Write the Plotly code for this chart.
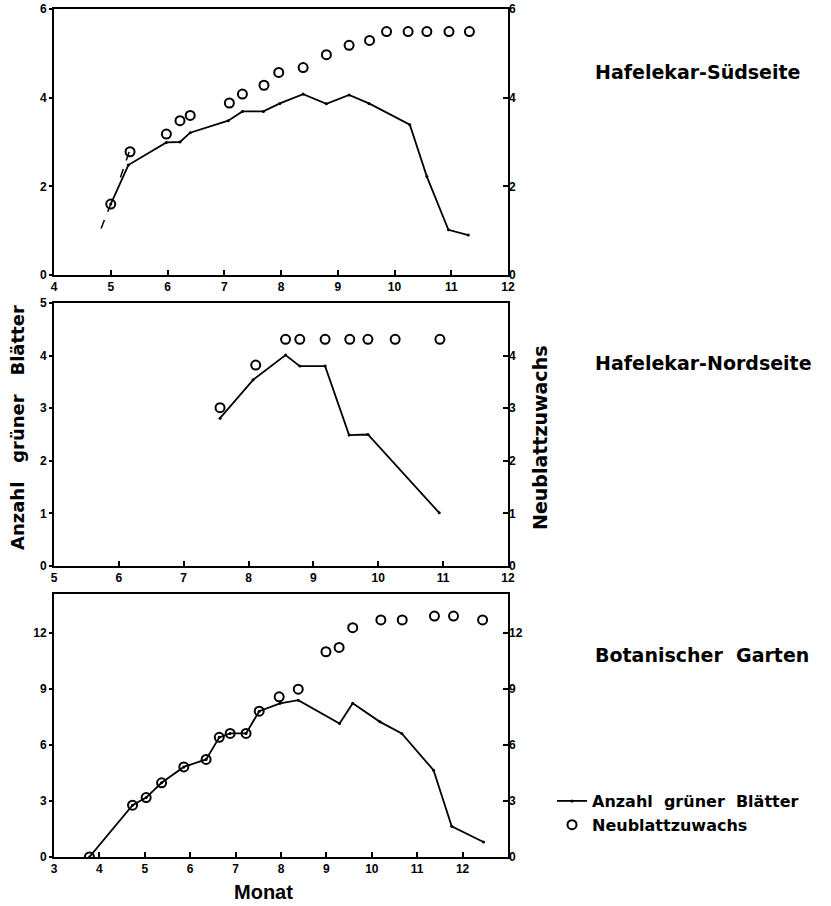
import plotly.graph_objects as go

# Hafelekar-Suedseite
sued_line_x = [5.0, 5.31, 5.98, 6.22, 6.40, 7.07, 7.32, 7.69, 7.98, 8.39, 8.80, 9.20, 9.55, 10.27, 10.57, 10.95, 11.30]
sued_line_y = [1.6, 2.48, 2.99, 3.0, 3.21, 3.48, 3.69, 3.69, 3.87, 4.08, 3.86, 4.06, 3.87, 3.39, 2.22, 1.02, 0.90]
sued_dash_x = [4.83, 5.0, None, 5.17, 5.33]
sued_dash_y = [1.05, 1.6, None, 2.2, 2.8]
sued_neu_x = [5.0, 5.34, 5.98, 6.22, 6.40, 7.09, 7.32, 7.70, 7.96, 8.39, 8.80, 9.20, 9.56, 9.86, 10.24, 10.57, 10.96, 11.32]
sued_neu_y = [1.6, 2.78, 3.18, 3.48, 3.60, 3.88, 4.08, 4.28, 4.57, 4.68, 4.97, 5.18, 5.29, 5.49, 5.49, 5.49, 5.49, 5.49]

# Hafelekar-Nordseite
nord_line_x = [7.56, 8.07, 8.57, 8.79, 9.18, 9.55, 9.84, 10.94]
nord_line_y = [2.81, 3.54, 4.01, 3.80, 3.80, 2.49, 2.50, 1.01]
nord_neu_x = [7.56, 8.11, 8.57, 8.79, 9.18, 9.56, 9.84, 10.26, 10.95]
nord_neu_y = [3.01, 3.82, 4.31, 4.31, 4.31, 4.31, 4.31, 4.31, 4.31]

# Botanischer Garten
bot_line_x = [3.78, 4.73, 5.03, 5.37, 5.86, 6.35, 6.64, 6.88, 7.23, 7.52, 7.98, 8.38, 9.29, 9.58, 10.18, 10.66, 11.36, 11.76, 12.46]
bot_line_y = [0, 2.77, 3.18, 3.97, 4.82, 5.22, 6.40, 6.61, 6.61, 7.80, 8.22, 8.39, 7.14, 8.22, 7.23, 6.61, 4.64, 1.64, 0.80]
bot_neu_x = [3.78, 4.73, 5.03, 5.37, 5.86, 6.35, 6.64, 6.88, 7.23, 7.52, 7.96, 8.38, 8.99, 9.28, 9.58, 10.20, 10.67, 11.38, 11.80, 12.44]
bot_neu_y = [0, 2.77, 3.18, 3.97, 4.82, 5.22, 6.40, 6.61, 6.61, 7.80, 8.57, 8.98, 10.98, 11.21, 12.27, 12.68, 12.68, 12.89, 12.89, 12.68]

titles = ["Hafelekar-Südseite", "Hafelekar-Nordseite", "Botanischer  Garten"]

# body margin is removed below, so the figure fills the whole window
W, H = 831, 906


def px(x):
    return x / W


def py(y):
    return 1 - y / H


TICKFONT = dict(family="Liberation Sans", size=12, color="black", weight="bold")
LBLFONT = dict(family="DejaVu Sans", color="black", weight="bold")

# panel boxes in window pixels: (top, bottom)
panels = [(9, 275), (303, 566), (594, 857)]
xranges = [[4, 12], [5, 12], [3, 13]]
xticks = [list(range(4, 13)), list(range(5, 13)), list(range(3, 13))]
yranges = [[0, 6], [0, 5], [0, 14.07]]
yticks = [[0, 2, 4, 6], [0, 1, 2, 3, 4, 5], [0, 3, 6, 9, 12]]
yticks_r = [[0, 2, 4, 6], [0, 1, 2, 3, 4], [0, 3, 6, 9, 12]]
xdom = [px(54), px(508)]

fig = go.Figure()

series = [
    (sued_line_x, sued_line_y, sued_neu_x, sued_neu_y),
    (nord_line_x, nord_line_y, nord_neu_x, nord_neu_y),
    (bot_line_x, bot_line_y, bot_neu_x, bot_neu_y),
]

for i, (lx, ly, nx, ny) in enumerate(series):
    n = i + 1
    xa = "x" if n == 1 else f"x{n}"
    ya = "y" if n == 1 else f"y{n}"
    ya_r = f"y{n + 3}"
    fig.add_trace(go.Scatter(
        x=lx, y=ly, xaxis=xa, yaxis=ya, mode="lines+markers",
        line=dict(color="black", width=1.8),
        marker=dict(size=3, color="black"),
        name="Anzahl  grüner  Blätter", showlegend=(i == 0),
    ))
    fig.add_trace(go.Scatter(
        x=nx, y=ny, xaxis=xa, yaxis=ya_r, mode="markers",
        marker=dict(symbol="circle-open", size=9, color="black", line=dict(width=2)),
        name="Neublattzuwachs", showlegend=(i == 0),
    ))

fig.add_trace(go.Scatter(
    x=sued_dash_x, y=sued_dash_y, xaxis="x", yaxis="y", mode="lines",
    line=dict(color="black", width=1.5, dash="dash"), showlegend=False,
))

layout = dict(
    width=W, height=H,
    margin=dict(l=0, r=0, t=0, b=0, autoexpand=False),
    paper_bgcolor="white", plot_bgcolor="white",
    showlegend=True,
    legend=dict(x=px(552), y=py(784), xanchor="left", yanchor="top",
                font=dict(family="DejaVu Sans", size=16, color="black", weight="bold"),
                bgcolor="rgba(0,0,0,0)", tracegroupgap=0, itemwidth=30),
)

for i in range(3):
    n = i + 1
    top, bot = panels[i]
    ydom = [py(bot), py(top)]
    xk = "xaxis" if n == 1 else f"xaxis{n}"
    yk = "yaxis" if n == 1 else f"yaxis{n}"
    layout[xk] = dict(
        domain=xdom, range=xranges[i], anchor="y" if n == 1 else f"y{n}",
        tickvals=xticks[i], ticks="inside", ticklen=5, tickwidth=1.5, tickcolor="black",
        showline=True, linecolor="black", linewidth=2, mirror=True,
        showgrid=False, zeroline=False, tickfont=TICKFONT, automargin=False,
        ticklabeloverflow="allow",
    )
    layout[yk] = dict(
        domain=ydom, range=yranges[i], anchor="x" if n == 1 else f"x{n}",
        tickvals=yticks[i], ticks="outside", ticklen=3, tickwidth=1.5, tickcolor="black",
        showline=True, linecolor="black", linewidth=2, mirror=True,
        showgrid=False, zeroline=False, tickfont=TICKFONT, automargin=False,
        ticklabeloverflow="allow",
    )
    layout[f"yaxis{n + 3}"] = dict(
        overlaying="y" if n == 1 else f"y{n}", side="right",
        anchor="x" if n == 1 else f"x{n}",
        range=yranges[i], tickvals=yticks_r[i], ticks="inside", ticklen=5, tickwidth=1.5,
        tickcolor="black", showline=False, showgrid=False, zeroline=False,
        tickfont=TICKFONT, automargin=False, ticklabeloverflow="allow",
    )

fig.update_layout(**layout)

title_y = [72, 363, 655]
for t, ty in zip(titles, title_y):
    fig.add_annotation(text=t, x=px(593), y=py(ty), xref="paper", yref="paper",
                       xanchor="left", yanchor="middle", showarrow=False,
                       font=dict(LBLFONT, size=19))

fig.add_annotation(text="Anzahl   grüner   Blätter", x=px(17), y=py(428),
                   xref="paper", yref="paper", textangle=-90, showarrow=False,
                   xanchor="center", yanchor="middle", font=dict(LBLFONT, size=18))
fig.add_annotation(text="Neublattzuwachs", x=px(540), y=py(438),
                   xref="paper", yref="paper", textangle=-90, showarrow=False,
                   xanchor="center", yanchor="middle", font=dict(LBLFONT, size=19))
fig.add_annotation(text="Monat", x=px(263), y=py(892),
                   xref="paper", yref="paper", showarrow=False,
                   xanchor="center", yanchor="middle",
                   font=dict(family="Liberation Sans", size=20, color="black", weight="bold"))

fig.write_html(
    "out.html",
    config={"displayModeBar": False},
    post_script="document.body.style.margin='0';document.body.style.overflow='hidden';",
)
